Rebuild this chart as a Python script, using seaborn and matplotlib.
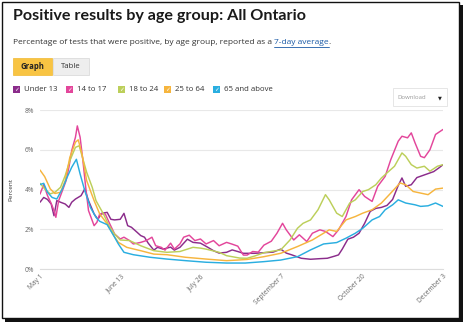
import matplotlib
matplotlib.use("Agg")
import matplotlib.pyplot as plt
import pandas as pd
import seaborn as sns
from matplotlib.patches import Rectangle

# ---------------- data (day 0 = May 1) ----------------
groups = ["Under 13", "14 to 17", "18 to 24", "25 to 64", "65 and above"]
colors = ["#8b2c8b", "#e3469b", "#bccf5a", "#f6b53e", "#2aaee0"]

u13_days = [0, 2, 4, 6, 7.5, 9, 11, 13.5, 15.5, 17, 19, 22, 24, 26, 29, 31, 33, 36, 38, 40, 43, 45, 47, 49,
            52, 54, 56, 58, 61, 63, 66, 70, 72, 75, 79, 82, 86, 90, 93, 96, 100, 103, 106, 109, 115, 120,
            125, 129, 132, 135, 140, 145, 150, 154, 158, 160, 162, 165, 168, 171, 174, 177, 180, 183, 186,
            189, 192, 194, 196, 199, 202, 205, 208, 211, 214, 216]
u13_vals = [3.36, 3.6, 3.5, 3.27, 2.68, 3.44, 3.36, 3.27, 3.1, 3.36, 3.52, 3.69, 4.03, 3.44, 2.77, 2.5, 2.8,
            2.85, 2.5, 2.47, 2.5, 2.8, 2.18, 2.1, 1.85, 1.68, 1.6, 1.3, 0.95, 1.09, 1.0, 1.1, 0.95, 1.09, 1.5,
            1.34, 1.3, 1.09, 0.92, 0.8, 0.84, 0.96, 0.88, 0.79, 0.79, 0.82, 0.85, 1.0, 0.8, 0.71, 0.54, 0.49,
            0.52, 0.54, 0.65, 0.71, 1.0, 1.5, 1.6, 1.8, 2.3, 2.9, 3.05, 3.1, 3.2, 3.5, 4.2, 4.58, 4.16, 4.24,
            4.6, 4.7, 4.8, 4.9, 5.1, 5.25]

t14_days = [0, 2, 4, 6, 7.5, 8.5, 10, 12, 14, 15.5, 17, 19, 20, 21.5, 23, 24.5, 26, 29, 30.5, 32, 35, 37, 40,
            43, 45, 48, 50, 54, 57, 60, 62, 65, 67, 70, 72, 75, 77, 80, 83, 86, 89, 93, 96, 100, 103, 106,
            109, 111, 114, 117, 120, 124, 127, 130, 132, 136, 139, 143, 146, 150, 153, 157, 160, 164, 167,
            171, 174, 178, 181, 185, 188, 192, 194, 197, 199, 201, 204, 206, 209, 212, 216]
t14_vals = [3.77, 4.25, 3.7, 3.3, 2.94, 2.6, 3.44, 3.94, 4.45, 5.12, 5.96, 6.63, 7.2, 6.63, 5.45, 4.11, 2.94,
            2.18, 2.35, 2.77, 2.77, 2.35, 1.76, 1.51, 1.6, 1.43, 1.26, 1.34, 1.43, 1.6, 1.17, 1.09, 0.95, 1.3,
            1.0, 1.26, 1.6, 1.7, 1.43, 1.51, 1.26, 1.43, 1.17, 1.34, 1.25, 1.15, 0.7, 0.7, 0.88, 0.85, 1.2,
            1.4, 1.8, 2.3, 1.97, 1.46, 1.72, 1.38, 1.8, 1.97, 1.89, 1.63, 1.97, 2.64, 3.48, 3.99, 3.65, 3.4,
            4.16, 4.66, 5.5, 6.43, 6.68, 6.6, 6.85, 6.35, 5.67, 5.6, 6.0, 6.77, 7.02]

y18_days = [0, 2.5, 5.5, 8, 11, 13.5, 16, 19, 21, 22.5, 25, 28, 30, 34, 37, 40, 43, 48, 54, 61, 68, 75, 79,
            82, 86, 89, 96, 100, 103, 107, 111, 115, 120, 125, 129, 134, 138, 141, 145, 149, 153, 155, 159,
            162, 166, 169, 173, 176, 180, 183, 187, 190, 194, 196, 199, 202, 206, 209, 213, 216]
y18_vals = [4.31, 4.03, 3.78, 3.86, 4.11, 4.7, 5.45, 6.12, 6.2, 5.7, 4.87, 4.11, 3.44, 2.77, 2.18, 1.76, 1.46,
            1.43, 1.17, 0.92, 0.84, 0.88, 1.0, 1.09, 1.05, 1.0, 0.84, 0.67, 0.62, 0.55, 0.54, 0.65, 0.82, 0.9,
            0.96, 1.46, 2.05, 2.3, 2.47, 2.98, 3.74, 3.48, 2.81, 2.64, 3.32, 3.48, 3.9, 3.99, 4.24, 4.58, 4.92,
            5.17, 5.84, 5.67, 5.25, 5.08, 5.17, 4.92, 5.17, 5.25]

a25_days = [0, 2.5, 5.5, 8, 11, 13.5, 16, 19, 20.5, 22.5, 25, 29, 32, 36, 39.5, 42, 46.5, 54, 61, 68, 78, 89,
            100, 106, 111, 120, 129, 138, 146, 152, 155, 159, 164, 169, 173, 178, 183, 188, 193, 196, 200,
            204, 208, 212, 216]
a25_vals = [4.98, 4.65, 4.03, 3.8, 3.86, 4.45, 5.62, 6.38, 6.5, 5.79, 4.45, 3.44, 2.77, 2.27, 1.68, 1.34, 1.09,
            0.92, 0.75, 0.72, 0.59, 0.5, 0.42, 0.45, 0.48, 0.62, 0.79, 1.13, 1.46, 1.8, 1.97, 1.89, 2.47, 2.64,
            2.81, 2.98, 3.32, 3.82, 4.33, 4.24, 3.9, 3.82, 3.74, 4.02, 4.07]

s65_days = [0, 2, 4, 6.5, 9, 12, 14.5, 17, 19.5, 21.5, 24, 27, 30, 32, 36, 39.5, 42, 45, 50, 59, 68, 78, 89,
            100, 110, 120, 129, 138, 145, 152, 159, 164, 169, 173, 178, 182, 185, 189, 192, 196, 201, 204,
            208, 212, 216]
s65_vals = [4.25, 4.31, 3.86, 3.6, 3.52, 4.03, 4.61, 5.12, 5.52, 4.78, 3.94, 3.1, 2.6, 2.4, 2.23, 1.68, 1.26,
            0.84, 0.72, 0.59, 0.5, 0.42, 0.34, 0.3, 0.3, 0.37, 0.45, 0.62, 0.96, 1.26, 1.33, 1.55, 1.8, 2.05,
            2.47, 2.64, 2.98, 3.23, 3.48, 3.32, 3.23, 3.15, 3.18, 3.32, 3.15]

tick_days = [0, 43.2, 86.4, 129.6, 172.8, 216]
tick_labels = ["May 1", "June 13", "July 26", "September 7", "October 20", "December 3"]
y_ticks = [0, 2, 4, 6, 8]
y_tick_labels = ["0%", "2%", "4%", "6%", "8%"]

# ---------------- build long table ----------------
series = [(u13_days, u13_vals), (t14_days, t14_vals), (y18_days, y18_vals),
          (a25_days, a25_vals), (s65_days, s65_vals)]
frames = []
for g, (d, v) in zip(groups, series):
    frames.append(pd.DataFrame({"day": d, "pct": v, "group": g}))
df = pd.concat(frames, ignore_index=True)

# ---------------- figure ----------------
sns.set_theme(style="white")
plt.rcParams["font.family"] = ["Open Sans", "DejaVu Sans"]

W, H = 468, 326
fig = plt.figure(figsize=(W / 100, H / 100), dpi=100)
fig.patch.set_facecolor("white")


def fx(x):
    return x / W


def fy(y):
    return 1 - y / H


# frame with shadow
fig.patches.append(Rectangle((fx(5), fy(322)), fx(463) - fx(5), fy(5) - fy(322),
                             transform=fig.transFigure, facecolor="#111111", edgecolor="none", zorder=-5))
fig.patches.append(Rectangle((fx(2), fy(318)), fx(459) - fx(2), fy(2) - fy(318),
                             transform=fig.transFigure, facecolor="white", edgecolor="#111111",
                             linewidth=1.0, zorder=-4))

ax = fig.add_axes([fx(40), fy(269), fx(443) - fx(40), fy(110) - fy(269)])
ax.set_facecolor("none")

sns.lineplot(data=df, x="day", y="pct", hue="group", hue_order=groups,
             palette=dict(zip(groups, colors)), estimator=None, linewidth=1.05,
             legend=False, ax=ax)

ax.set_xlim(0, 216)
ax.set_ylim(0, 8)
ax.set_yticks(y_ticks)
ax.set_yticklabels(y_tick_labels)
ax.set_xticks(tick_days)
ax.set_xticklabels(tick_labels, rotation=45, ha="right", rotation_mode="anchor")
ax.tick_params(axis="both", labelsize=4.8, colors="#777777", length=0, pad=4)
ax.tick_params(axis="x", pad=3)
for lab in ax.get_xticklabels() + ax.get_yticklabels():
    lab.set_color("#666666")
ax.grid(axis="y", color="#e8e8e8", linewidth=0.8)
ax.grid(axis="x", visible=False)
for s in ["top", "right", "left"]:
    ax.spines[s].set_visible(False)
ax.spines["bottom"].set_color("#dddddd")
ax.spines["bottom"].set_linewidth(0.8)
ax.set_xlabel("")
ax.set_ylabel("Percent", fontsize=4.6, color="#333333", labelpad=8)

# ---------------- header ----------------
fig.text(fx(13), fy(16), "Positive results by age group: All Ontario", fontsize=11.6,
         fontweight="bold", color="#1a1a1a", va="center", ha="left", family=["Lato", "DejaVu Sans"])
sub1 = "Percentage of tests that were positive, by age group, reported as a "
t = fig.text(fx(13), fy(43), sub1, fontsize=6.0, color="#333333", va="center", ha="left")
fig.canvas.draw()
bb = t.get_window_extent()
x_link = bb.x1
t2 = fig.text(x_link / W, fy(43), "7-day average", fontsize=6.0, color="#1a5aa6", va="center",
              ha="left")
fig.canvas.draw()
bb2 = t2.get_window_extent()
fig.add_artist(plt.Line2D([bb2.x0 / W, bb2.x1 / W], [fy(47), fy(47)], transform=fig.transFigure,
                          color="#1a5aa6", linewidth=0.6))
fig.text(bb2.x1 / W, fy(43), ".", fontsize=6.0, color="#333333", va="center", ha="left")

# buttons
fig.patches.append(Rectangle((fx(13), fy(75)), fx(52) - fx(13), fy(58) - fy(75),
                             transform=fig.transFigure, facecolor="#f8c443", edgecolor="#f0b830",
                             linewidth=0.5))
fig.patches.append(Rectangle((fx(53), fy(75)), fx(89) - fx(53), fy(58) - fy(75),
                             transform=fig.transFigure, facecolor="#eeeeee", edgecolor="#d6d6d6",
                             linewidth=0.5))
fig.text(fx(32.5), fy(66.5), "Graph", fontsize=5.6, fontweight="bold", color="#222222",
         ha="center", va="center")
fig.text(fx(71), fy(66.5), "Table", fontsize=5.6, color="#333333", ha="center", va="center")

# legend with checkboxes
leg_x = [13, 66, 118, 164, 213]
for g, c, x0 in zip(groups, colors, leg_x):
    fig.patches.append(Rectangle((fx(x0), fy(92.5)), fx(6.5), fy(86) - fy(92.5),
                                 transform=fig.transFigure, facecolor=c, edgecolor="none"))
    fig.text(fx(x0 + 3.2), fy(89.3), "\u2713", fontsize=4.2, color="white", ha="center",
             va="center", family=["DejaVu Sans"], fontweight="bold")
    fig.text(fx(x0 + 11), fy(89.3), g, fontsize=5.6, color="#333333", ha="left", va="center")

# download box
fig.patches.append(Rectangle((fx(393), fy(106)), fx(447) - fx(393), fy(88) - fy(106),
                             transform=fig.transFigure, facecolor="white", edgecolor="#e2e2e2",
                             linewidth=0.6))
fig.text(fx(397), fy(97.5), "Download", fontsize=4.3, color="#999999", ha="left", va="center")
fig.text(fx(440), fy(97.5), "\u25BC", fontsize=3.6, color="#222222", ha="center", va="center",
         family=["DejaVu Sans"])

fig.savefig("out.png", dpi=100)
